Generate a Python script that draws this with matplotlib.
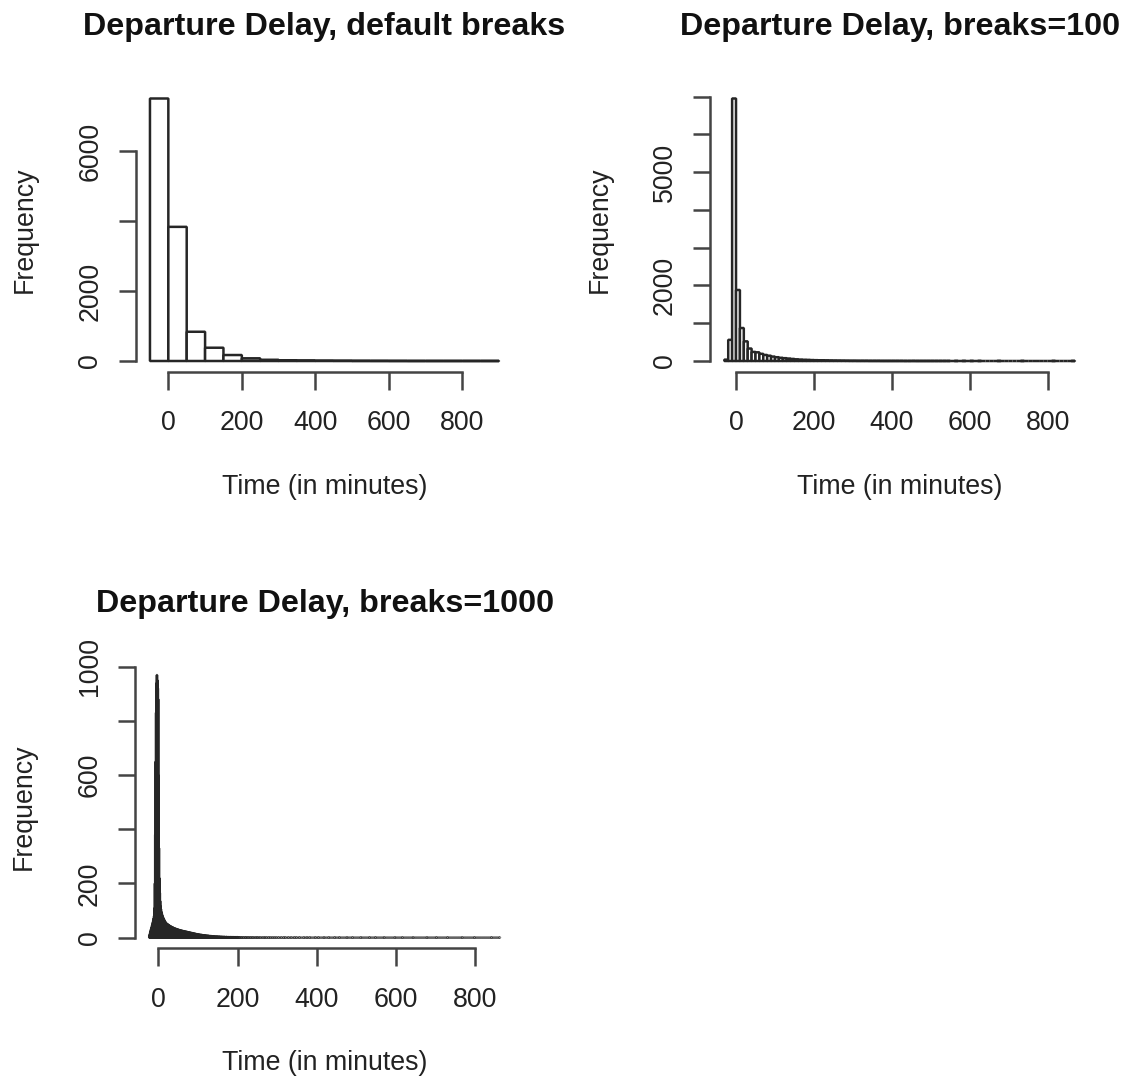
import numpy as np
import matplotlib.pyplot as plt

plt.rcParams['font.family'] = ['Liberation Sans', 'DejaVu Sans']

W, H = 1123, 1076
PX = 72 / 100  # points per pixel at dpi 100
LW = 1.8
INK = '#262626'

# Panel 1: default breaks, 50-minute bins from -50 to 900
breaks1 = np.arange(-50, 901, 50)
counts1 = [7514, 3840, 837, 380, 171, 77, 35, 20, 12, 8,
           6, 4, 3, 2, 1, 1, 1, 1, 1]

# Panel 2: breaks=100, 10-minute bins from -30 to 870
breaks2 = np.arange(-30, 871, 10)
counts2 = [36, 560, 6950, 1880, 873, 520, 330, 240, 230, 190,
           160, 140, 117, 100, 85, 75, 65, 55, 45, 38,
           33, 30, 25, 22, 18, 15, 12, 10, 9, 8,
           7, 6, 5, 5, 4, 4, 4, 3, 3, 3,
           2, 2, 2, 2, 2, 2, 1, 1, 2, 1,
           1, 1, 1, 1, 1, 1, 1, 1, 0, 1,
           0, 1, 0, 1, 0, 1, 0, 0, 0, 0,
           1, 0, 0, 0, 0, 0, 1, 0, 0, 0,
           0, 0, 0, 0, 1, 0, 0, 0, 0, 1]

# Panel 3: breaks=1000, 1-minute bins from -23 to 863
breaks3 = np.arange(-23, 864, 1)
counts3_head = [8, 12, 18, 25, 30, 35, 40, 46, 52, 58,
                64, 72, 80, 110, 200, 380, 650, 830, 940, 969,
                950, 920, 880, 600, 330, 220, 165, 135, 118, 105,
                96, 89, 84, 80, 76, 72, 69, 66, 63, 60,
                58, 56, 54, 52, 51, 50, 49, 48, 47, 46,
                45, 44, 43, 42, 41, 40, 40, 39, 38, 37,
                37, 36, 35, 35, 34, 33, 33, 32, 32, 31,
                31, 30, 30, 29, 29, 28, 28, 27, 27, 27,
                26, 26, 25, 25, 25, 24, 24, 24, 23, 23,
                23, 22, 22, 22, 21, 21, 21, 20, 20, 20,
                19, 19, 19, 18, 18, 18, 17, 17, 17, 16,
                16, 16, 15, 15, 15, 14, 14, 14, 13, 13,
                13, 12, 12, 12, 12, 11, 11, 11, 11, 10,
                10, 10, 10, 10, 9, 9, 9, 9, 9, 8,
                8, 8, 8, 8, 7, 7, 7, 7, 7, 7,
                6, 6, 6, 6, 6, 5, 6, 5, 5, 5,
                5, 5, 5, 4, 5, 4, 4, 4, 4, 4,
                4, 4, 4, 3, 4, 3, 3, 4, 3, 3,
                3, 3, 3, 3, 2, 3, 3, 2, 3, 2,
                3, 2, 2, 2, 3, 2, 2, 2, 2, 2,
                2, 2, 2, 1, 2, 2, 2, 1, 2, 2,
                1, 2, 1, 2, 1, 1, 2, 1, 1, 2,
                1, 1, 1, 2, 1, 1, 1, 1, 1, 1]
# single long delays (minutes) past the head
long_delays = [209, 211, 212, 215, 216, 219, 221, 222, 225, 227, 229, 232,
               234, 237, 239, 242, 246, 249, 251, 255, 258, 263, 267, 270,
               274, 279, 283, 288, 293, 298, 304, 311, 317, 321, 329, 336,
               344, 349, 357, 368, 376, 383, 397, 405, 419, 431, 446, 458,
               477, 491, 512, 534, 549, 571, 598, 617, 644, 679, 703, 731,
               768, 799, 842, 863]

counts3 = np.zeros(len(breaks3) - 1)
counts3[:len(counts3_head)] = counts3_head
for m in long_delays:
    counts3[m - breaks3[0] - 1] += 1

xticks = [0, 200, 400, 600, 800]

fig = plt.figure(figsize=(W / 100, H / 100), dpi=100)


def r_hist(box, breaks, counts, yticks, ylabels, title):
    x0, x1, yt, yb = box
    ax = fig.add_axes([x0 / W, 1 - yb / H, (x1 - x0) / W, (yb - yt) / H])
    ax.bar(breaks[:-1], counts, width=np.diff(breaks), align='edge',
           facecolor='white', edgecolor=INK, linewidth=LW,
           joinstyle='bevel', snap=False)
    # R style 4% axis extension
    lo, hi = breaks[0], breaks[-1]
    ax.set_xlim(lo - 0.04 * (hi - lo), hi + 0.04 * (hi - lo))
    top = max(counts)
    ax.set_ylim(-0.04 * top, 1.04 * top)

    for s in ['top', 'right']:
        ax.spines[s].set_visible(False)
    for s in ['left', 'bottom']:
        ax.spines[s].set_linewidth(LW)
        ax.spines[s].set_color('#444444')
    ax.spines['bottom'].set_bounds(xticks[0], xticks[-1])
    ax.spines['left'].set_bounds(yticks[0], yticks[-1])

    ax.set_xticks(xticks, [str(t) for t in xticks])
    ax.set_yticks(yticks, ylabels)
    ax.tick_params(length=17.5 * PX, width=LW, color='#444444',
                   labelsize=19.3, labelcolor='#222222')
    ax.tick_params(axis='x', pad=21 * PX)
    ax.tick_params(axis='y', pad=21 * PX, labelrotation=90)
    for t in ax.get_yticklabels():
        t.set_rotation_mode('anchor')
        t.set_ha('center')
        t.set_va('baseline')

    ax.annotate('Time (in minutes)', xy=(0.5, 0), xycoords='axes fraction',
                xytext=(0, -122 * PX), textcoords='offset points',
                ha='center', va='baseline', fontsize=19.3, color='#222222')
    ax.annotate('Frequency', xy=(0, 0.5), xycoords='axes fraction',
                xytext=(-104 * PX, 0), textcoords='offset points',
                ha='center', va='baseline', rotation=90, rotation_mode='anchor',
                fontsize=19.3, color='#222222')
    ax.annotate(title, xy=(0.5, 1), xycoords='axes fraction',
                xytext=(0, 53 * PX), textcoords='offset points',
                ha='center', va='baseline', fontsize=23.2, fontweight='bold',
                color='#111111')
    return ax


r_hist((136, 513, 88, 371.5), breaks1, counts1,
       [0, 2000, 4000, 6000], ['0', '2000', '', '6000'],
       'Departure Delay, default breaks')
r_hist((710.3, 1089, 88, 371.5), breaks2, counts2,
       list(range(0, 7001, 1000)), ['0', '', '2000', '', '', '5000', '', ''],
       'Departure Delay, breaks=100')
r_hist((135.2, 514, 664.6, 948.2), breaks3, counts3,
       list(range(0, 1001, 200)), ['0', '200', '', '600', '', '1000'],
       'Departure Delay, breaks=1000')

fig.savefig('out.png', dpi=100, facecolor='white')
